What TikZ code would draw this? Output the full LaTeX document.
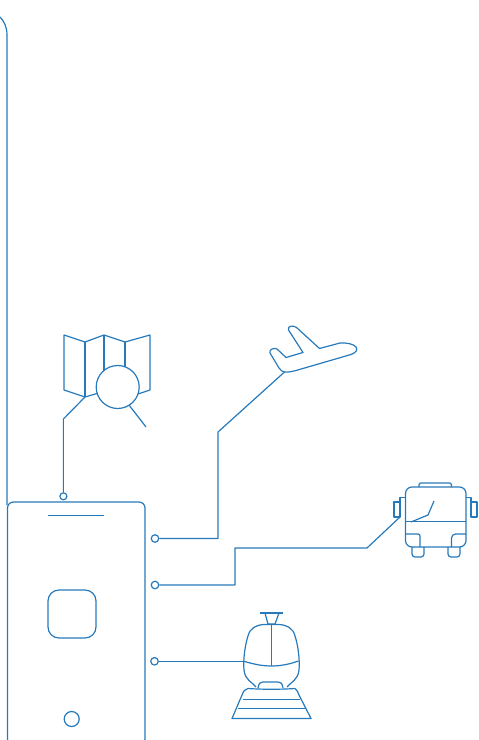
\documentclass[tikz,border=0pt]{standalone}
\usepackage{tikz}
\definecolor{lineblue}{HTML}{2679BA}
\tikzset{
	icon/.style={lineblue, line width=0.68pt, line join=round},
	port/.style={circle, draw=lineblue, line width=0.68pt, fill=white, inner sep=0pt, minimum size=0.15cm},
}
\begin{document}
\begin{tikzpicture}[x=0.02cm, y=-0.02cm]
		\useasboundingbox (0, 0) rectangle (479, 740);
		% frame line
		\draw [icon] (0, 17) .. controls (4, 21) and (7, 27) .. (7, 35) -- (7, 505);
		% phone
		\draw [icon, rounded corners=0.12cm] (7.5, 502) rectangle (145, 745);
		\draw [icon] (48, 515.5) -- (104, 515.5);
		\draw [icon, rounded corners=0.22cm] (48, 590) rectangle (96, 638);
		\node [port, minimum size=0.3cm] (homebutton) at (71.7, 719) {};
		% ports
		\node [port, minimum size=0.14cm] (mapport) at (63.4, 496.3) {};
		\node [port] (planeport) at (155, 538.5) {};
		\node [port] (busport) at (155, 585) {};
		\node [port] (trainport) at (154.5, 661.3) {};
		\coordinate (mapend) at (85, 397);
		\coordinate (planeend) at (284.5, 372);
		\coordinate (busend) at (400, 517);
		\coordinate (trainend) at (244, 661.3);
		% connectors
		\draw [icon] (mapport) -- (63.4, 419) -- (mapend);
		\draw [icon] (planeport) -- (218, 538.5) -- (218, 432) -- (planeend);
		\draw [icon] (busport) -- (235, 585) -- (235, 548) -- (367, 548) -- (busend);
		\draw [icon] (trainport) -- (trainend);
		% map
		\draw [icon] (97, 393.5) -- (mapend) -- (64, 390) -- (64, 335) -- (85, 342) -- (104, 335) -- (125, 342) -- (150, 335) -- (150, 390) -- (138, 394);
		\draw [icon] (85, 342) -- (mapend);
		\draw [icon] (104, 335) -- (104, 371);
		\draw [icon] (125, 342) -- (125, 368);
		\node [port, minimum size=0.86cm] (lens) at (117.7, 387) {};
		\draw [icon] (129, 405) -- (146, 427);
		% plane
		\draw [icon] (planeend) .. controls (288, 372.5) and (292, 371.5) .. (296, 370.5) -- (351, 354.5) .. controls (356, 352.5) and (358, 350) .. (356, 347) .. controls (354, 344) and (346, 342.5) .. (340, 343) -- (319.5, 348.5) -- (296.5, 327.5) .. controls (293, 325) and (287.5, 325.5) .. (288.5, 330) -- (303, 352.5) -- (286, 357.5) -- (277, 349) .. controls (275, 347.5) and (268.5, 349) .. (270, 353) -- (279, 368) .. controls (280.5, 370.5) and (282.5, 371.5) .. (planeend);
		% bus
		\draw [icon, rounded corners=0.13cm] (405.5, 487) rectangle (466, 547);
		\draw [icon, rounded corners=0.03cm] (419, 487) -- (419, 483) -- (451.5, 483) -- (451.5, 487);
		\draw [icon] (405.5, 497.5) -- (400, 497.5) -- (400, 517) -- (394, 517) -- (394, 502) -- (400, 502);
		\draw [icon] (466, 497.5) -- (471, 497.5) -- (471, 517) -- (477, 517) -- (477, 502) -- (471, 502);
		\draw [icon] (405.5, 521.5) -- (466, 521.5);
		\draw [icon] (411, 522) -- (428, 515) -- (434, 501);
		\draw [icon, rounded corners=0.04cm] (405.5, 534) -- (420, 534) -- (420, 547);
		\draw [icon, rounded corners=0.08cm] (466, 534) -- (451.5, 534) -- (451.5, 547);
		\draw [icon, rounded corners=0.06cm] (412, 547) -- (412, 557) -- (424, 557) -- (424, 547);
		\draw [icon, rounded corners=0.06cm] (448, 547) -- (448, 557) -- (460, 557) -- (460, 547);
		% train
		\draw [icon] (260, 613) -- (283, 613);
		\draw [icon] (265, 613) -- (268, 624) -- (275, 624) -- (279, 613);
		\draw [icon] (256, 687) .. controls (252, 682) and (245, 680) .. (244, 670) .. controls (243, 660) and (245, 645) .. (248, 636) .. controls (250, 628) and (256, 625) .. (264, 624.5) -- (279, 624.5) .. controls (287, 625) and (293, 628) .. (295, 636) .. controls (298, 645) and (300, 660) .. (299, 670) .. controls (298, 680) and (291, 682) .. (287, 687);
		\draw [icon] (trainend) .. controls (253, 664) and (262, 666) .. (271.5, 666) .. controls (281, 666) and (290, 664) .. (298.5, 661);
		\draw [icon] (271.5, 624.5) -- (271.5, 666);
		\draw [icon] (258, 688) .. controls (259, 683) and (260, 682) .. (263, 682) -- (278, 682) .. controls (281, 682) and (282, 683) .. (283, 688);
		\draw [icon] (295, 688.5) .. controls (280, 689.5) and (263, 689.5) .. (248, 688.5) .. controls (245, 689) and (243.5, 691) .. (242, 695) -- (232, 718.5) -- (311, 718.5) -- (299, 695) .. controls (298, 692) and (297, 690) .. (295, 688.5);
		\draw [icon] (243, 699.4) -- (300, 699.4);
		\draw [icon] (238, 708.5) -- (305, 708.5);
	\end{tikzpicture}
\end{document}
